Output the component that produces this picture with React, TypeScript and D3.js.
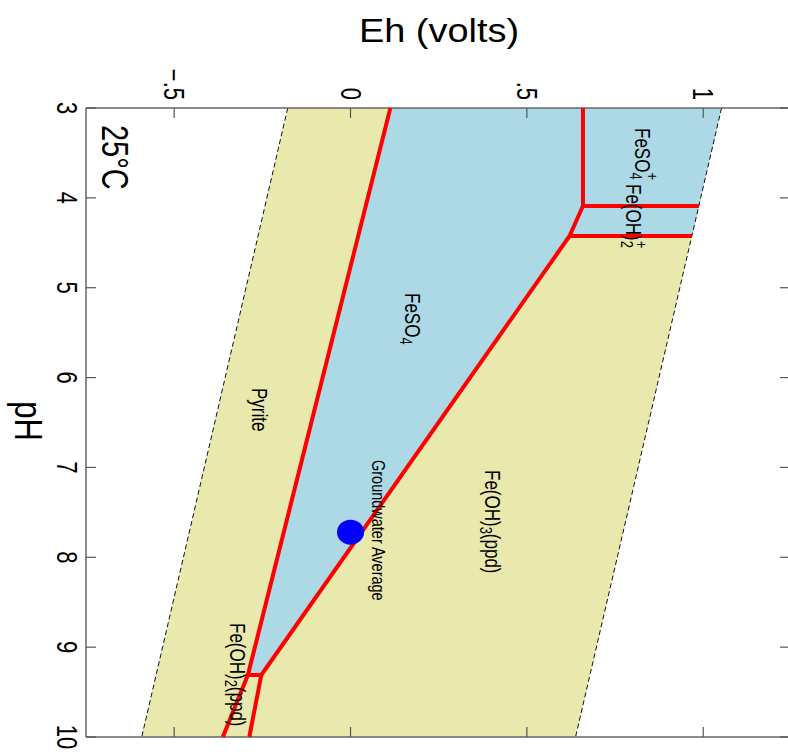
import React from "react";
import * as d3 from "d3";

// ---- data: boundary lines as [pH, Eh] pairs ----
const waterUpper: [number, number][] = [[3, 1.052], [10, 0.638]];
const waterLower: [number, number][] = [[3, -0.178], [10, -0.592]];
const pyriteBoundary: [number, number][] = [[3, 0.113], [9.31, -0.291], [10, -0.362]];
const ferricBoundary: [number, number][] = [[3, 0.659], [4.09, 0.659], [4.424, 0.621], [9.31, -0.253]];
const ferrousHydroxideBoundary: [number, number][] = [[9.31, -0.291], [9.31, -0.253], [10, -0.287]];
const feso4PlusBoundary: [number, number][] = [[4.09, 0.659], [4.09, 0.988]];
const feoh2PlusBoundary: [number, number][] = [[4.424, 0.621], [4.424, 0.968]];
const aqueousRegion: [number, number][] = [
  [3, 0.113], [3, 1.052], [4.424, 0.968], [4.424, 0.621], [9.31, -0.253], [9.31, -0.291],
];
const groundwater = { pH: 7.72, Eh: 0.0 };

const phTicks = [3, 4, 5, 6, 7, 8, 9, 10];
const ehTicks = [-0.5, 0, 0.5, 1];
const ehTickLabels = ["\u2212.5", "0", ".5", "1"];

const FONT = "'Liberation Sans', Arial, Helvetica, sans-serif";

const x = d3.scaleLinear().domain([-0.75, 1.25]).range([86, 791.4]);
const y = d3.scaleLinear().domain([3, 10]).range([108, 737]);

const line = d3
  .line<[number, number]>()
  .x((d) => x(d[1]))
  .y((d) => y(d[0]));

function RText({
  x: px,
  y: py,
  size,
  sx = 1.3,
  anchor = "start",
  children,
}: {
  x: number;
  y: number;
  size: number;
  sx?: number;
  anchor?: string;
  children: React.ReactNode;
}) {
  return (
    <text
      transform={`translate(${px},${py}) scale(${sx},1) rotate(90)`}
      fontSize={size}
      fontFamily={FONT}
      textAnchor={anchor}
      fill="#000"
    >
      {children}
    </text>
  );
}

export default function App() {
  const bandPoly: [number, number][] = [waterLower[0], waterUpper[0], waterUpper[1], waterLower[1]];
  const poly = (pts: [number, number][]) => line(pts) + "Z";
  const redLines = [pyriteBoundary, ferricBoundary, ferrousHydroxideBoundary, feso4PlusBoundary, feoh2PlusBoundary];

  return (
    <svg
      width={788}
      height={756}
      style={{ position: "absolute", left: 0, top: 0, background: "#fff" }}
    >
      <path d={poly(bandPoly)} fill="#E9E8AD" />
      <path d={poly(aqueousRegion)} fill="#ADD8E6" />
      <path d={line(waterUpper) || ""} stroke="#111" strokeWidth={1} strokeDasharray="5,3" fill="none" />
      <path d={line(waterLower) || ""} stroke="#111" strokeWidth={1} strokeDasharray="5,3" fill="none" />

      {/* frame */}
      <g stroke="#666" strokeWidth={1.5} fill="none">
        <line x1={86} y1={108} x2={791} y2={108} />
        <line x1={86} y1={737} x2={791} y2={737} />
        <line x1={86} y1={108} x2={86} y2={737} />
        <line x1={790} y1={108} x2={790} y2={737} />
      </g>
      <g stroke="#555" strokeWidth={1.2}>
        {ehTicks.map((t) => (
          <g key={"eh" + t}>
            <line x1={x(t)} x2={x(t)} y1={108} y2={118} />
            <line x1={x(t)} x2={x(t)} y1={737} y2={727} />
          </g>
        ))}
        {phTicks.map((t) => (
          <g key={"ph" + t}>
            <line x1={86} x2={96} y1={y(t)} y2={y(t)} />
            <line x1={790} x2={780} y1={y(t)} y2={y(t)} />
          </g>
        ))}
      </g>

      {redLines.map((l, i) => (
        <path key={i} d={line(l) || ""} stroke="#FF0000" strokeWidth={4} fill="none" strokeLinejoin="miter" />
      ))}

      <ellipse cx={x(groundwater.Eh)} cy={y(groundwater.pH)} rx={13.5} ry={12.5} fill="#0000FF" />

      {/* tick labels */}
      {phTicks.map((t) => (
        <RText key={"pl" + t} x={57} y={y(t)} size={22} anchor="middle">
          {String(t)}
        </RText>
      ))}
      {ehTicks.map((t, i) => (
        <RText key={"el" + t} x={x(t) - 10} y={100} size={22} anchor="end">
          {ehTickLabels[i]}
        </RText>
      ))}

      {/* axis titles */}
      <text
        transform="translate(439,42) scale(1.15,1)"
        fontSize={33}
        fontFamily={FONT}
        textAnchor="middle"
      >
        Eh (volts)
      </text>
      <RText x={15} y={421} size={31} sx={1.25} anchor="middle">
        pH
      </RText>
      <RText x={102} y={125} size={29} sx={1.25}>
        25°C
      </RText>

      {/* region labels */}
      <RText x={405} y={293} size={17}>
        FeSO<tspan fontSize={13} dy={4}>4</tspan>
      </RText>
      <RText x={252} y={388} size={17}>
        Pyrite
      </RText>
      <RText x={485} y={470} size={17}>
        Fe(OH)<tspan fontSize={13} dy={4}>3</tspan>
        <tspan dy={-4}>(ppd)</tspan>
      </RText>
      <RText x={372} y={460} size={14.5}>
        Groundwater Average
      </RText>
      <RText x={635} y={128} size={17}>
        FeSO<tspan fontSize={13} dy={4}>4</tspan>
        <tspan fontSize={13} dx={-7} dy={-13}>+</tspan>
      </RText>
      <RText x={626} y={184} size={17}>
        Fe(OH)<tspan fontSize={13} dy={4}>2</tspan>
        <tspan fontSize={13} dx={-7} dy={-12}>+</tspan>
      </RText>
      <RText x={230} y={623} size={17}>
        Fe(OH)<tspan fontSize={13} dy={4}>2</tspan>
        <tspan dy={-4}>(ppd)</tspan>
      </RText>
    </svg>
  );
}
